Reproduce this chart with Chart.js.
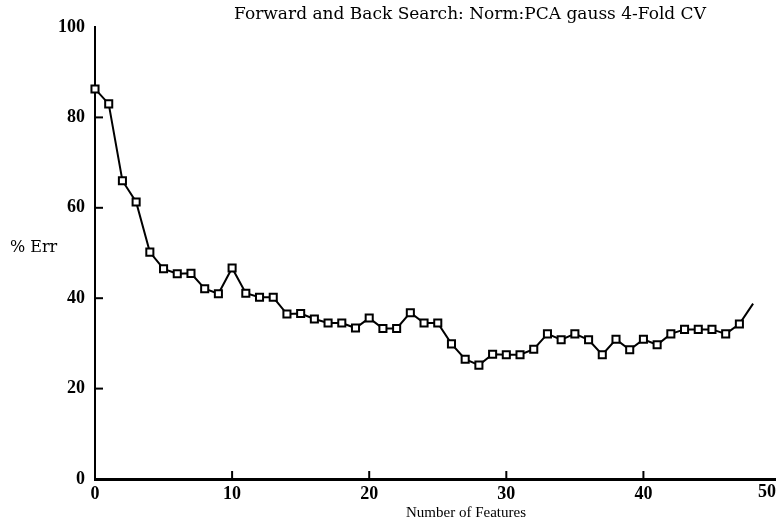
<!DOCTYPE html>
<html>
<head>
    <title>Forward and Back Search</title>
    <script src="https://cdn.jsdelivr.net/npm/chart.js"></script>
    <style>
        body { margin: 0; background: #fff; }
        #wrap { width: 776px; height: 523px; position: relative; }
    </style>
</head>
<body>
<div id="wrap"><canvas id="errChart"></canvas></div>

<script>
// number of features 0..48, % error
const features = [0,1,2,3,4,5,6,7,8,9,10,11,12,13,14,15,16,17,18,19,20,21,22,23,24,
                  25,26,27,28,29,30,31,32,33,34,35,36,37,38,39,40,41,42,43,44,45,46,47,48];
const pctErr = [86.3,83.0,66.0,61.3,50.2,46.5,45.4,45.5,42.1,41.0,46.7,41.1,40.2,40.2,36.5,36.6,
                35.4,34.5,34.5,33.4,35.6,33.3,33.3,36.8,34.5,34.5,29.9,26.5,25.2,27.6,27.5,27.5,
                28.7,32.1,30.8,32.1,30.8,27.5,30.9,28.6,30.9,29.7,32.1,33.1,33.1,33.1,32.1,34.3,38.8];
const xTicks = [0, 10, 20, 30, 40];
const yTicks = [0, 20, 40, 60, 80, 100];
const xInnerTicks = [10, 20, 30, 40];
const yInnerTicks = [20, 40, 60, 80];

const titleText = 'Forward and Back Search: Norm:PCA gauss 4-Fold CV';
const xTitle = 'Number of Features';
const yTitle = '% Err';

const points = features.map((f, i) => ({ x: f, y: pctErr[i] }));
const lastIdx = points.length - 1;

// inward tick marks + the free-standing labels of the old plot
const decor = {
    id: 'decor',
    afterDraw(chart) {
        const ctx = chart.ctx;
        const xs = chart.scales.x, ys = chart.scales.y;
        const area = chart.chartArea;
        ctx.save();
        ctx.strokeStyle = '#000';
        ctx.lineWidth = 2;
        yInnerTicks.forEach(v => {
            const py = ys.getPixelForValue(v);
            ctx.beginPath();
            ctx.moveTo(area.left, py);
            ctx.lineTo(area.left + 8, py);
            ctx.stroke();
        });
        xInnerTicks.forEach(v => {
            const px = xs.getPixelForValue(v);
            ctx.beginPath();
            ctx.moveTo(px, area.bottom);
            ctx.lineTo(px, area.bottom - 8);
            ctx.stroke();
        });

        ctx.fillStyle = '#000';
        ctx.textBaseline = 'middle';
        ctx.font = '17px "DejaVu Serif"';
        ctx.textAlign = 'center';
        ctx.fillText(titleText, 470, 15);

        ctx.font = '16px "DejaVu Serif"';
        ctx.textAlign = 'left';
        ctx.fillText(yTitle, 10, 248);

        ctx.font = '15px "Liberation Serif"';
        ctx.textAlign = 'center';
        ctx.fillText(xTitle, 466, 513);

        ctx.font = 'bold 18px "Liberation Serif"';
        ctx.textAlign = 'right';
        ctx.fillText('50', 776, 492);
        ctx.restore();
    }
};

new Chart(document.getElementById('errChart'), {
    type: 'line',
    data: {
        datasets: [{
            data: points,
            clip: false,
            borderColor: '#000',
            borderWidth: 2,
            backgroundColor: '#fff',
            pointStyle: 'rect',
            pointRadius: c => c.dataIndex === lastIdx ? 0 : 5,
            pointBorderWidth: 2,
            pointBorderColor: '#000',
            pointBackgroundColor: '#fff',
            tension: 0
        }]
    },
    options: {
        responsive: true,
        maintainAspectRatio: false,
        animation: false,
        layout: { autoPadding: false, padding: { top: 27, right: 0, left: 0, bottom: 0 } },
        plugins: {
            legend: { display: false },
            title: { display: false },
            tooltip: { enabled: false }
        },
        scales: {
            x: {
                type: 'linear',
                min: 0,
                max: 49.67,
                afterBuildTicks: s => { s.ticks = xTicks.map(v => ({ value: v })); },
                afterFit: s => { s.height = 44; s.paddingLeft = 0; s.paddingRight = 0; },
                grid: { display: false, drawTicks: false },
                border: { color: '#000', width: 3 },
                ticks: {
                    color: '#000',
                    padding: 5,
                    font: { family: 'Liberation Serif', size: 18, weight: 'bold' }
                }
            },
            y: {
                min: 0,
                max: 100,
                afterBuildTicks: s => { s.ticks = yTicks.map(v => ({ value: v })); },
                afterFit: s => { s.width = 95; s.paddingTop = 0; s.paddingBottom = 0; },
                grid: { display: false, drawTicks: false },
                border: { color: '#000', width: 2 },
                ticks: {
                    color: '#000',
                    padding: 10,
                    font: { family: 'Liberation Serif', size: 18, weight: 'bold' }
                }
            }
        }
    },
    plugins: [decor]
});
</script>
</body>
</html>
